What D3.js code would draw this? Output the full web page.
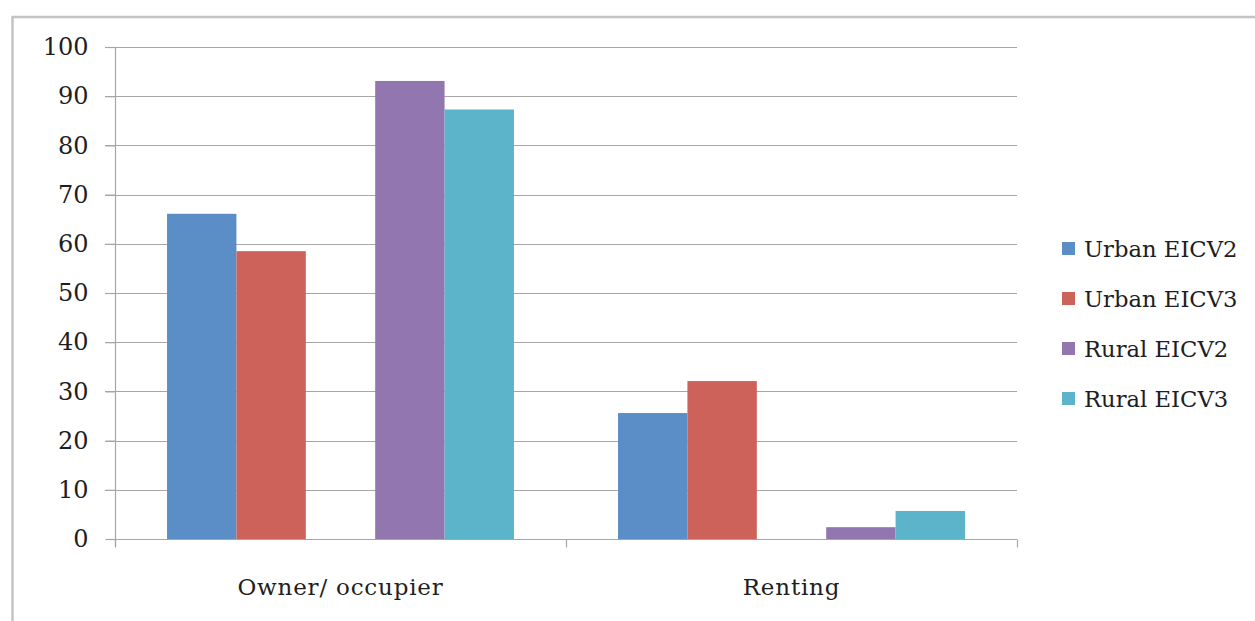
<!DOCTYPE html>
<html>
<head>
<meta charset="utf-8">
<script src="https://cdn.jsdelivr.net/npm/d3@7"></script>
<style>
  html, body { margin: 0; padding: 0; background: #fff; }
  svg { display: block; }
  text { font-family: "DejaVu Serif", serif; fill: #1e1e1e; }
</style>
</head>
<body>
<svg id="chart" width="1255" height="621"></svg>
<script>
const categories = ["Owner/ occupier", "Renting"];
const seriesNames = ["Urban EICV2", "Urban EICV3", "Rural EICV2", "Rural EICV3"];
const urbanEICV2 = [66.1, 25.6];
const urbanEICV3 = [58.5, 32.1];
const ruralEICV2 = [93.1, 2.4];
const ruralEICV3 = [87.3, 5.7];
const yTicks = [0, 10, 20, 30, 40, 50, 60, 70, 80, 90, 100];
const colors = ["#5B8DC6", "#CC6259", "#9176B0", "#5CB4CB"];

const seriesValues = [urbanEICV2, urbanEICV3, ruralEICV2, ruralEICV3];
// slots: the two pairs are separated by an empty slot (as in the original)
const slots = ["Urban EICV2", "Urban EICV3", "__gap__", "Rural EICV2", "Rural EICV3"];

const svg = d3.select("#chart");

// outer frame
svg.append("rect")
  .attr("x", 12.5).attr("y", 17)
  .attr("width", 1400).attr("height", 800)
  .attr("fill", "none").attr("stroke", "#c4c4c4").attr("stroke-width", 2.5);

const pLeft = 115, pRight = 1017, pTop = 47, pBottom = 539;

const y = d3.scaleLinear().domain([0, 100]).range([pBottom, pTop]);
const x0 = d3.scaleBand().domain(categories).range([pLeft, pRight]).padding(0);
const x1 = d3.scaleBand().domain(slots).range([0, x0.bandwidth()])
  .paddingInner(0).paddingOuter(0.75);

// gridlines
svg.append("g").selectAll("line").data(yTicks.filter(d => d > 0)).join("line")
  .attr("x1", pLeft - 10).attr("x2", pRight)
  .attr("y1", d => Math.round(y(d)) + 0.5).attr("y2", d => Math.round(y(d)) + 0.5)
  .attr("stroke", "#a6a6a6").attr("stroke-width", 1.2);

// bars
const rows = [];
categories.forEach((c, i) => {
  seriesNames.forEach((s, j) => {
    rows.push({ cat: c, series: s, value: seriesValues[j][i], color: colors[j] });
  });
});
svg.append("g").selectAll("rect").data(rows).join("rect")
  .attr("x", d => x0(d.cat) + x1(d.series))
  .attr("width", x1.bandwidth())
  .attr("y", d => y(d.value))
  .attr("height", d => y(0) - y(d.value))
  .attr("fill", d => d.color);

// y axis
const yAxis = d3.axisLeft(y).tickValues(yTicks).tickSize(10).tickPadding(17);
const gy = svg.append("g").attr("transform", `translate(${pLeft + 0.5},0)`).call(yAxis);
gy.select(".domain").attr("stroke", "#a6a6a6").attr("stroke-width", 1.2)
  .attr("d", `M-10,${pTop + 0.5}H0V${pBottom + 7}`);
gy.selectAll(".tick line").attr("stroke", "#a6a6a6").attr("stroke-width", 1.2);
gy.selectAll(".tick text").style("font-family", '"DejaVu Serif", serif')
  .style("font-size", "24px").attr("fill", "#1e1e1e");

// x axis
const gx = svg.append("g").attr("transform", `translate(0,${pBottom + 0.5})`);
gx.append("line").attr("x1", pLeft).attr("x2", pRight).attr("y1", 0).attr("y2", 0)
  .attr("stroke", "#a6a6a6").attr("stroke-width", 1.2);
const bounds = [pLeft, ...categories.map(c => x0(c) + x0.bandwidth())];
gx.selectAll(".vt").data(bounds).join("line").attr("class", "vt")
  .attr("x1", d => d + 0.5).attr("x2", d => d + 0.5).attr("y1", 0).attr("y2", 8)
  .attr("stroke", "#a6a6a6").attr("stroke-width", 1.2);
gx.selectAll(".cl").data(categories).join("text").attr("class", "cl")
  .attr("x", d => x0(d) + x0.bandwidth() / 2)
  .attr("y", 55)
  .attr("text-anchor", "middle")
  .style("font-size", "23px")
  .style("letter-spacing", "0.8px")
  .text(d => d);

// legend
const lg = svg.append("g").attr("transform", "translate(1062,242)");
const li = lg.selectAll("g").data(seriesNames).join("g")
  .attr("transform", (d, i) => `translate(0,${i * 50})`);
li.append("rect").attr("width", 13).attr("height", 13)
  .attr("fill", (d, i) => colors[i]);
li.append("text").attr("x", 22).attr("y", 6.5).attr("dy", "0.36em")
  .style("font-size", "22.7px").text(d => d);
</script>
</body>
</html>
